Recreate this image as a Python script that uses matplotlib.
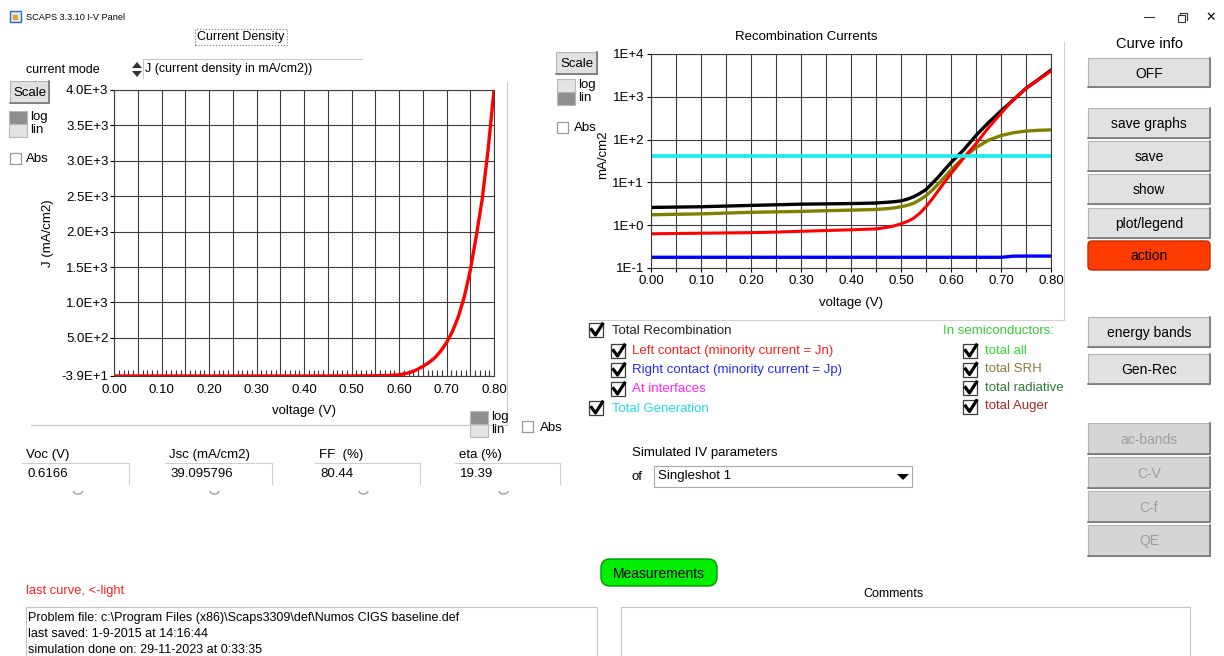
import matplotlib
matplotlib.use("Agg")
import matplotlib.pyplot as plt
from matplotlib.patches import Rectangle, FancyBboxPatch, Polygon, Arc
from matplotlib.lines import Line2D
from matplotlib.transforms import Affine2D
from matplotlib.ticker import MultipleLocator, FuncFormatter, NullLocator
import numpy as np

plt.rcParams['font.family'] = ['Liberation Sans', 'DejaVu Sans']

# I-V curve, current density in mA/cm2
iv_voltage = [0.00, 0.10, 0.20, 0.30, 0.40, 0.45, 0.50, 0.55, 0.575, 0.60, 0.6083,
              0.6166, 0.625, 0.6375, 0.65, 0.6625, 0.675, 0.6875, 0.70, 0.7125,
              0.725, 0.7375, 0.75, 0.7625, 0.775, 0.7875, 0.80]
iv_current = [-39.10, -39.09, -39.07, -39.03, -38.9, -38.7, -38.2, -36.0, -32.0, -22.0, -12.0,
              0.0, 15.0, 50.0, 95.0, 150.0, 215.0, 310.0, 430.0, 590.0,
              800.0, 1080.0, 1450.0, 1930.0, 2450.0, 3150.0, 4000.0]
j_ticks = [-39, 500, 1000, 1500, 2000, 2500, 3000, 3500, 4000]

# recombination / generation currents in mA/cm2
rec_voltage = [0.00, 0.05, 0.10, 0.15, 0.20, 0.25, 0.30, 0.35, 0.40, 0.45,
               0.475, 0.4875, 0.50, 0.5125, 0.525, 0.5375, 0.55, 0.5625, 0.575, 0.5875, 0.60,
               0.625, 0.65, 0.675, 0.70, 0.725, 0.75, 0.775, 0.80]
rec_total = [2.6, 2.65, 2.7, 2.8, 2.9, 3.0, 3.1, 3.15, 3.2, 3.3,
             3.45, 3.55, 3.7, 4.05, 4.6, 5.5, 6.8, 9.5, 13.5, 20, 29,
             57, 125, 250, 470, 850, 1580, 2550, 4200]
rec_semi = [1.75, 1.8, 1.84, 1.92, 2.0, 2.05, 2.1, 2.18, 2.25, 2.33,
            2.45, 2.55, 2.7, 2.9, 3.25, 3.9, 4.9, 6.6, 9.3, 13.5, 19.5,
            38, 65, 97, 124, 145, 158, 165, 169]
rec_left = [0.63, 0.64, 0.65, 0.66, 0.67, 0.69, 0.72, 0.75, 0.78, 0.82,
            0.9, 0.97, 1.08, 1.22, 1.45, 1.9, 2.7, 4.1, 6.5, 10.3, 16,
            37, 80, 190, 410, 870, 1560, 2500, 4000]
rec_right = [0.178] * 25 + [0.189, 0.19, 0.19, 0.19]
gen_total = [41.5] * len(rec_voltage)
rec_ticks = [0.1, 1, 10, 100, 1000, 10000]

iv_results = [("Voc (V)", "0.6166"), ("Jsc (mA/cm2)", "39.095796"),
              ("FF  (%)", "80.44"), ("eta (%)", "19.39")]

W, H = 1224, 656
fig = plt.figure(figsize=(W / 100, H / 100), dpi=100)
fig.patch.set_facecolor('white')
# pixel coordinates, origin top-left
T = Affine2D().scale(1 / W, -1 / H).translate(0, 1) + fig.transFigure


def text(x, y, s, size=9, color='black', ha='left', va='center', **kw):
    fig.text(x, y, s, transform=T, fontsize=size, color=color, ha=ha, va=va, **kw)


def rect(x0, y0, x1, y1, fc='none', ec='none', lw=0.8, z=1):
    fig.add_artist(Rectangle((x0, y0), x1 - x0, y1 - y0, transform=T,
                             facecolor=fc, edgecolor=ec, linewidth=lw, zorder=z))


def line(xs, ys, color, lw=0.8, z=2):
    fig.add_artist(Line2D(xs, ys, transform=T, color=color, linewidth=lw, zorder=z))


def button(x0, y0, x1, y1, label, enabled=True, size=10):
    rect(x0, y0, x1, y1, fc='#e1e1e1' if enabled else '#d5d5d5', ec='#b4b4b4')
    line([x0, x1, x1], [y1, y1, y0], '#6e6e6e', lw=1.1)
    text((x0 + x1) / 2, (y0 + y1) / 2 + 1, label, size=size,
         color='black' if enabled else '#9c9c9c', ha='center')


def round_button(x0, y0, x1, y1, label, fc, ec, size=10, r=5):
    fig.add_artist(FancyBboxPatch((x0, y0), x1 - x0, y1 - y0, transform=T,
                                  boxstyle=f"round,pad=0,rounding_size={r}",
                                  facecolor=fc, edgecolor=ec, linewidth=1.0))
    text((x0 + x1) / 2, (y0 + y1) / 2 + 1, label, size=size, ha='center')


def checkbox(x, y, checked=True, s=14):
    rect(x, y, x + s, y + s, fc='white', ec='#3c3c3c' if checked else '#9a9a9a', lw=0.9)
    if checked:
        line([x + 2.5, x + 6.5, x + 13.5], [y + 6.5, y + 12, y + 1], 'black', lw=2.3, z=3)


def loglin(x, y, log_dark):
    dark, light = '#8e8e8e', '#e4e4e4'
    rect(x, y, x + 18, y + 13, fc=dark if log_dark else light, ec='#b8b8b8')
    rect(x, y + 13, x + 18, y + 26, fc=light if log_dark else dark, ec='#b8b8b8')
    text(x + 21, y + 6, 'log', size=9.5)
    text(x + 21, y + 19, 'lin', size=9.5)


def sci_label(v, pos):
    mant, exp = f"{v:.1E}".split('E')
    return f"{mant}E{int(exp):+d}"


def volt_label(v, pos):
    return f"{v:.2f}" if round(v * 100) % 10 == 0 else ''


# ---- title bar
rect(10, 11, 21, 22, fc='#dbe8f7', ec='#2f6db5', lw=1)
rect(13, 15, 18, 20, fc='#f0a020', ec='none')
text(26, 17, 'SCAPS 3.3.10 I-V Panel', size=6.6)
line([1144, 1154], [17, 17], '#333333', lw=0.8)
rect(1178, 15, 1185, 22, ec='#333333', lw=0.8)
line([1180, 1180, 1187, 1187], [15, 13, 13, 20], '#333333', lw=0.8)
text(1211, 17, '\u2715', size=9, ha='center', family='DejaVu Sans')

# ---- left panel: current density
text(241, 37, 'Current Density', size=9, ha='center',
     bbox=dict(boxstyle='square,pad=0.15', fc='white', ec='#777777', ls=':', lw=0.8))
text(26, 70, 'current mode', size=9)
fig.add_artist(Polygon([[132, 68], [142, 68], [137, 62]], transform=T, fc='#333333', ec='none'))
fig.add_artist(Polygon([[132, 71], [142, 71], [137, 77]], transform=T, fc='#333333', ec='none'))
line([143, 362], [59, 59], '#c8c8c8')
line([143, 143], [59, 78], '#c8c8c8')
text(145, 69, 'J (current density in mA/cm2))', size=9)
button(10, 81, 49, 103, 'Scale', size=9.5)
loglin(9, 111, True)
checkbox(10, 153, checked=False, s=11)
text(26, 159, 'Abs', size=9.5)
line([507, 507], [82, 424], '#c8c8c8')
line([31, 507], [425, 425], '#c8c8c8')
loglin(470, 411, True)
checkbox(522, 421, checked=False, s=11)
text(540, 428, 'Abs', size=9.5)

ax1 = fig.add_axes([114 / W, 1 - 376 / H, 380 / W, 286 / H])
ax1.plot(iv_voltage, iv_current, color='#ff0000', lw=2.4, zorder=3,
         solid_capstyle='butt')
ax1.set_xlim(0, 0.8)
ax1.set_ylim(-39, 4000)
ax1.set_yticks(j_ticks)
ax1.yaxis.set_major_formatter(FuncFormatter(sci_label))
ax1.xaxis.set_major_locator(MultipleLocator(0.05))
ax1.xaxis.set_major_formatter(FuncFormatter(volt_label))
ax1.xaxis.set_minor_locator(MultipleLocator(0.01))
ax1.tick_params(axis='x', which='major', length=0, pad=6, labelsize=9.5)
ax1.tick_params(axis='x', which='minor', direction='in', length=4, width=0.8,
                color='#333333', bottom=True, top=False)
ax1.tick_params(axis='y', which='major', length=3, width=0.8, pad=1, labelsize=9.5)
text(48, 233, 'J (mA/cm2)', size=9.5, ha='center', rotation=90)
text(304, 411, 'voltage (V)', size=9.5, ha='center')

# ---- right panel: recombination currents
text(806, 37, 'Recombination Currents', size=9.5, ha='center')
button(556, 52, 597, 74, 'Scale', size=9.5)
loglin(557, 79, False)
checkbox(557, 122, checked=False, s=11)
text(574, 128, 'Abs', size=9.5)
line([1064, 1064], [42, 320], '#d0d0d0')
line([589, 1064], [320, 320], '#d0d0d0')

ax2 = fig.add_axes([651 / W, 1 - 268 / H, 400 / W, 214 / H])
ax2.plot(rec_voltage, rec_total, color='black', lw=2.4)
ax2.plot(rec_voltage, rec_semi, color='#808000', lw=2.4)
ax2.plot(rec_voltage, rec_left, color='#ff0000', lw=2.2)
ax2.plot(rec_voltage, gen_total, color='#18ecec', lw=2.6)
ax2.plot(rec_voltage, rec_right, color='#0000ff', lw=2.4)
ax2.set_yscale('log')
ax2.set_xlim(0, 0.8)
ax2.set_ylim(0.1, 10000)
ax2.set_yticks(rec_ticks)
ax2.yaxis.set_major_formatter(FuncFormatter(lambda v, p: f"1E{int(round(np.log10(v))):+d}"))
ax2.yaxis.set_minor_locator(NullLocator())
ax2.xaxis.set_major_locator(MultipleLocator(0.05))
ax2.xaxis.set_major_formatter(FuncFormatter(volt_label))
ax2.tick_params(axis='both', which='major', length=3, width=0.8, pad=2, labelsize=9.5)
text(603, 155, 'mA/cm2', size=9.5, ha='center', rotation=90)
text(851, 303, 'voltage (V)', size=9.5, ha='center')

for ax in (ax1, ax2):
    ax.grid(True, which='major', color='#3c3c3c', lw=0.8)
    ax.set_axisbelow(True)
    for sp in ax.spines.values():
        sp.set_color('#3c3c3c')
        sp.set_linewidth(0.8)

# ---- legend of the recombination plot
checkbox(589, 323)
text(612, 331, 'Total Recombination', size=9.5, color='#202020')
legend_rows = [('Left contact (minority current = Jn)', '#ff1e1e'),
               ('Right contact (minority current = Jp)', '#2828ff'),
               ('At interfaces', '#ff22ff')]
for i, (lab, col) in enumerate(legend_rows):
    y = 344 + 19 * i
    checkbox(611, y)
    text(632, y + 7, lab, size=9.5, color=col)
checkbox(589, 401)
text(612, 409, 'Total Generation', size=9.5, color='#22dde8')
text(943, 331, 'In semiconductors:', size=9.5, color='#33cc33')
semi_rows = [('total all', '#33dd33'), ('total SRH', '#8b7d3a'),
             ('total radiative', '#2e7d32'), ('total Auger', '#a52a2a')]
for i, (lab, col) in enumerate(semi_rows):
    y = 344 + 18.5 * i
    checkbox(963, y)
    text(985, y + 7, lab, size=9.5, color=col)

# ---- IV parameters
box_left = [22, 165, 315, 455]
box_right = [129, 272, 420, 560]
for (lab, val), x0, x1 in zip(iv_results, box_left, box_right):
    text(x0 + 4, 455, lab, size=9.5)
    line([x0, x1, x1], [463, 463, 484], '#d0d0d0')
    text(x0 + 5, 474, val, size=9.5)
    cx = (x0 + x1) / 2 - 4 if x0 > 22 else 78
    fig.add_artist(Arc((cx, 491), 9, 6, theta1=0, theta2=180, transform=T,
                       color='#a0a0a0', lw=1.0))

text(632, 453, 'Simulated IV parameters', size=9.5)
text(632, 477, 'of', size=9.5)
rect(654, 466, 912, 487, fc='white', ec='#a8a8a8')
text(658, 476.5, 'Singleshot 1', size=9.5)
fig.add_artist(Polygon([[897, 474], [909, 474], [903, 480]], transform=T, fc='black', ec='none'))

# ---- right-hand buttons
text(1149, 44, 'Curve info', size=10.5, ha='center')
button(1088, 58, 1210, 87, 'OFF')
for y0, lab in [(108, 'save graphs'), (141, 'save'), (174, 'show'), (208, 'plot/legend')]:
    button(1088, y0, 1210, y0 + 30, lab)
round_button(1088, 241, 1210, 270, 'action', '#ff3b00', '#c02a00', r=4)
button(1088, 317, 1210, 347, 'energy bands')
button(1088, 354, 1210, 384, 'Gen-Rec')
for y0, lab in [(423, 'ac-bands'), (457, 'C-V'), (491, 'C-f'), (525, 'QE')]:
    button(1088, y0, 1210, y0 + 31, lab, enabled=False)

# ---- bottom area
round_button(601, 559, 717, 586, 'Measurements', '#00ee00', '#009900', size=10, r=9)
text(26, 591, 'last curve, <-light', size=9.3, color='#ff2020')
text(893, 594, 'Comments', size=9, ha='center')
rect(26, 607, 597, 662, fc='white', ec='#c4c4c4')
rect(621, 607, 1190, 662, fc='white', ec='#c4c4c4')
info_lines = ['Problem file: c:\\Program Files (x86)\\Scaps3309\\def\\Numos CIGS baseline.def',
              'last saved: 1-9-2015 at 14:16:44',
              'simulation done on: 29-11-2023 at 0:33:35']
for i, s in enumerate(info_lines):
    text(28, 618 + 16 * i, s, size=9)

fig.savefig('out.png', dpi=100, facecolor='white')
